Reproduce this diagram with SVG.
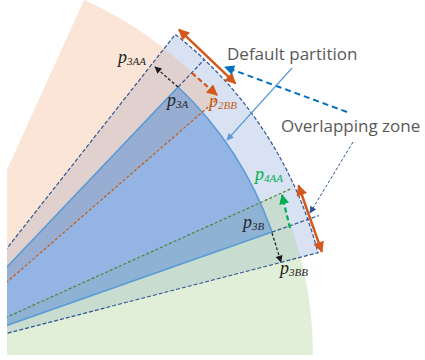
<svg xmlns="http://www.w3.org/2000/svg" width="425" height="360" viewBox="0 0 425 360">
<style>
.lbl{font-family:"Open Sans","Liberation Sans",sans-serif;font-size:17px;fill:#595959}
.m{font-family:"Liberation Serif",serif;font-style:italic;font-size:18px;fill:#262626}
.sub{font-size:11px}
.dash{fill:none;stroke:#2f5597;stroke-width:1.2;stroke-dasharray:4 2}
.solid{fill:none;stroke:#5b9bd5;stroke-width:1.6}
</style>
<defs>
<clipPath id="clip"><rect x="7" y="0" width="418" height="356"/></clipPath>
<marker id="ah-o" viewBox="0 0 10 10" refX="9" refY="5" markerWidth="12" markerHeight="11" markerUnits="userSpaceOnUse" orient="auto-start-reverse"><path d="M0,0 L10,5 L0,10 z" fill="#d4581c"/></marker>
<marker id="ah-g" viewBox="0 0 10 10" refX="9" refY="5" markerWidth="11" markerHeight="10" markerUnits="userSpaceOnUse" orient="auto"><path d="M0,0 L10,5 L0,10 z" fill="#00b050"/></marker>
<marker id="ah-k" viewBox="0 0 10 10" refX="9" refY="5" markerWidth="8" markerHeight="7" markerUnits="userSpaceOnUse" orient="auto"><path d="M0,0 L10,5 L0,10 z" fill="#1a1a1a"/></marker>
<marker id="ah-b" viewBox="0 0 10 10" refX="9" refY="5" markerWidth="11" markerHeight="10" markerUnits="userSpaceOnUse" orient="auto"><path d="M0,0 L10,5 L0,10 z" fill="#0070c0"/></marker>
<marker id="ah-lb" viewBox="0 0 10 10" refX="9" refY="5" markerWidth="8" markerHeight="7" markerUnits="userSpaceOnUse" orient="auto"><path d="M0,0 L10,5 L0,10 z" fill="#5b9bd5"/></marker>
<marker id="ah-db" viewBox="0 0 10 10" refX="9" refY="5" markerWidth="8" markerHeight="7" markerUnits="userSpaceOnUse" orient="auto"><path d="M0,0 L10,5 L0,10 z" fill="#2f5597"/></marker>
</defs>
<g clip-path="url(#clip)">
<g id="overlap-zone">
<path d="M-77,355 L175.3,34.4 A408,408 0 0 1 318,252.8 Z" fill="#d9e2f3"/>
</g>
<g id="sector-a"><path d="M-77,355 L84.1,-0.2 A390,390 0 0 1 217.3,99.1 Z" fill="#f4b183" fill-opacity="0.33"/></g>
<g id="sector-b"><path d="M-77,355 L278.4,194.5 A390,390 0 0 1 313,355 Z" fill="#a9d18e" fill-opacity="0.34"/></g>
<g id="default-partition">
<path d="M-77,355 L178.2,87 A370,370 0 0 1 272,232.1 Z" fill="#5b8fd5" fill-opacity="0.55"/>
<path class="solid" d="M-77,355 L178.2,87 A370,370 0 0 1 272,232.1 Z"/>
</g>
<g id="boundaries">
<path class="dash" d="M-77,355 L175.3,34.4 A408,408 0 0 1 318,252.8 Z"/>
<path class="dash" d="M178.2,87 L204.4,59.5 M272,232.1 L318.8,215.6"/>
<path d="M-77,355 L215.8,100.4" fill="none" stroke="#c55a11" stroke-width="1.2" stroke-dasharray="3 2"/>
<path d="M-77,355 L291.2,188.7" fill="none" stroke="#548235" stroke-width="1.2" stroke-dasharray="3 2"/>
</g>
</g>
<g id="connectors">
<line x1="179" y1="29.6" x2="235.4" y2="83.4" stroke="#d4581c" stroke-width="2.5" marker-start="url(#ah-o)" marker-end="url(#ah-o)"/>
<line x1="192" y1="73" x2="217" y2="95" stroke="#d4581c" stroke-width="2.2" stroke-dasharray="5 3" marker-end="url(#ah-o)"/>
<line x1="298.5" y1="185.5" x2="321.9" y2="251.8" stroke="#d4581c" stroke-width="2.5" marker-start="url(#ah-o)" marker-end="url(#ah-o)"/>
<line x1="290" y1="228" x2="282" y2="195" stroke="#00b050" stroke-width="2.2" stroke-dasharray="5 3" marker-end="url(#ah-g)"/>
<line x1="178" y1="87" x2="155" y2="67" stroke="#1a1a1a" stroke-width="1.2" stroke-dasharray="3 2" marker-end="url(#ah-k)"/>
<line x1="272" y1="233" x2="281" y2="262" stroke="#1a1a1a" stroke-width="1.2" stroke-dasharray="3 2" marker-end="url(#ah-k)"/>
<line x1="347" y1="112" x2="225" y2="67" stroke="#0070c0" stroke-width="2" stroke-dasharray="6 4" marker-end="url(#ah-b)"/>
<line x1="292" y1="68" x2="227" y2="140" stroke="#5b9bd5" stroke-width="1.2" marker-end="url(#ah-lb)"/>
<line x1="353" y1="142" x2="310" y2="213" stroke="#2f5597" stroke-width="1" stroke-dasharray="3 2" marker-end="url(#ah-db)"/>
</g>
<g id="labels">
<text class="lbl" x="227" y="60">Default partition</text>
<text class="lbl" x="281" y="132">Overlapping zone</text>
<text class="m" x="118" y="63">p<tspan class="sub" dy="2">3AA</tspan></text>
<text class="m" x="167" y="106">p<tspan class="sub" dy="2">3A</tspan></text>
<text class="m" x="209" y="107" style="fill:#c55a11">p<tspan class="sub" dy="2">2BB</tspan></text>
<text class="m" x="255" y="180" style="fill:#00b050">p<tspan class="sub" dy="2">4AA</tspan></text>
<text class="m" x="243" y="228">p<tspan class="sub" dy="2">3B</tspan></text>
<text class="m" x="280" y="274">p<tspan class="sub" dy="2">3BB</tspan></text>
</g>
</svg>
